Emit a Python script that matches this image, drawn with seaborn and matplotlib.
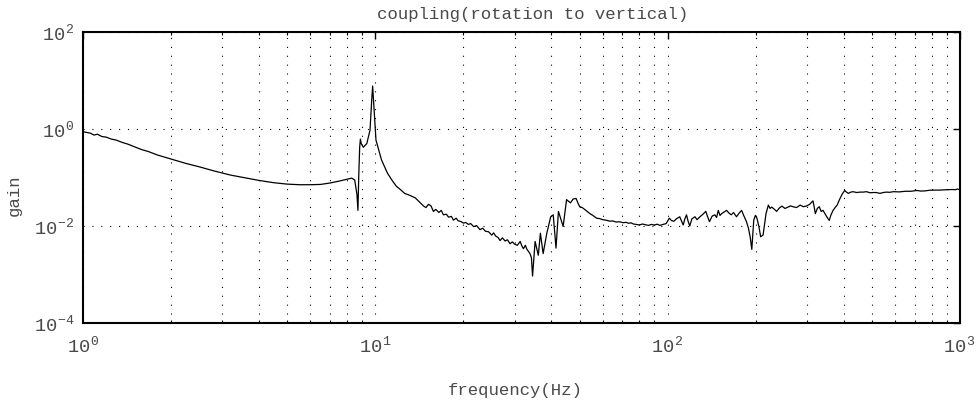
import numpy as np
import pandas as pd
import matplotlib
matplotlib.use("Agg")
import matplotlib.pyplot as plt
from matplotlib.ticker import FixedLocator, NullLocator, FuncFormatter, NullFormatter
import seaborn as sns

# ---------------- data ----------------
freq_hz = [
    # 1 - 8.5 Hz
    1.00, 1.03, 1.06, 1.09, 1.12, 1.16, 1.20, 1.25, 1.30, 1.36,
    1.42, 1.50, 1.58, 1.68, 1.80, 2.00, 2.25, 2.50, 2.80, 3.20,
    3.60, 4.00, 4.50, 5.00, 5.50, 6.00, 6.50, 7.00, 7.50, 8.00,
    # resonance
    8.30, 8.50, 8.65, 8.72, 8.78, 8.84, 8.89, 8.95, 9.10, 9.35,
    9.59, 9.72, 9.79, 9.90,
    # 10 - 20 Hz
    10.05, 10.5, 11.0, 11.4, 11.8, 12.2, 12.6, 13.1, 13.7, 14.1,
    14.6, 14.9, 15.2, 15.5, 15.8, 16.1, 16.5, 16.8, 17.1, 17.5,
    17.8, 18.2, 18.5, 18.9, 19.2, 19.6, 20.0,
    # 20 - 34 Hz
    20.4, 20.8, 21.2, 21.7, 22.2, 22.8, 23.3, 23.8, 24.4, 25.0,
    25.4, 25.8, 26.3, 26.7, 27.2, 27.8, 28.3, 28.9, 29.4, 30.0,
    30.6, 31.3, 31.7, 32.1, 32.6, 33.0, 33.4, 33.8, 34.2,
    # 34 - 48 Hz
    34.5, 35.2, 36.1, 36.7, 37.5, 38.6, 39.8, 40.6, 41.5, 42.3,
    43.9, 45.1, 46.5, 47.5, 48.6,
    # 49 - 100 Hz
    49.3, 50.0, 51.0, 52.0, 53.0, 54.2, 55.5, 57.1, 58.5, 60.0,
    61.5, 63.3, 65.0, 66.5, 68.5, 70.5, 72.0, 73.5, 75.0, 76.3,
    78.0, 80.0, 82.0, 84.0, 86.0, 88.0, 90.0, 92.0, 94.0, 96.0,
    98.8,
    # 100 - 400 Hz
    101.3, 103, 105, 107, 110, 111.5, 113, 114.5, 116, 117.5,
    119, 121, 124, 126, 129, 132, 135, 137, 139, 142,
    145, 147, 149, 151, 153, 156, 159, 162, 165, 168,
    172, 175, 179, 182, 186, 189, 191.5, 194, 197, 199.5,
    202, 205, 208, 212, 214.5, 217, 221, 224, 227, 231,
    236, 241, 246, 252, 258, 263, 268, 276, 284, 291,
    298, 306, 314, 317, 320, 325, 330, 335, 340, 349,
    357, 362, 368, 374, 380, 387, 395,
    # 400 - 1000 Hz
    403, 409, 415, 423, 431, 443, 455, 467, 479, 492,
    505, 518, 532, 546, 560, 575, 591, 620, 650, 680,
    711, 735, 760, 786, 813, 855, 900, 940, 965, 980,
    1000,
]
gain = [
    # 1 - 8.5 Hz
    0.88, 0.85, 0.82, 0.75, 0.78, 0.70, 0.68, 0.62, 0.59, 0.53,
    0.49, 0.43, 0.38, 0.34, 0.29, 0.24, 0.195, 0.166, 0.137, 0.112,
    0.098, 0.087, 0.078, 0.073, 0.071, 0.071, 0.072, 0.077, 0.084, 0.092,
    # resonance
    0.097, 0.089, 0.045, 0.021, 0.12, 0.42, 0.62, 0.50, 0.42, 0.50,
    0.95, 4.0, 7.7, 2.5,
    # 10 - 20 Hz
    0.59, 0.23, 0.123, 0.088, 0.066, 0.056, 0.047, 0.043, 0.038, 0.032,
    0.026, 0.024, 0.028, 0.026, 0.020, 0.022, 0.019, 0.021, 0.017, 0.0175,
    0.0152, 0.0158, 0.0132, 0.0145, 0.0128, 0.0124, 0.0115,
    # 20 - 34 Hz
    0.0118, 0.0108, 0.0112, 0.0097, 0.0102, 0.0084, 0.0090, 0.0078, 0.0076, 0.0065,
    0.0072, 0.0062, 0.0058, 0.0050, 0.0057, 0.0049, 0.0052, 0.0043, 0.0047, 0.0042,
    0.0040, 0.0048, 0.0039, 0.0034, 0.0040, 0.0033, 0.0030, 0.0027, 0.0022,
    # 34 - 48 Hz
    0.00093, 0.0048, 0.0025, 0.0071, 0.0027, 0.0071, 0.0155, 0.017, 0.0035, 0.020,
    0.0098, 0.035, 0.030, 0.036, 0.037,
    # 49 - 100 Hz
    0.030, 0.025, 0.024, 0.022, 0.020, 0.018, 0.0165, 0.0145, 0.0142, 0.0135,
    0.0132, 0.0126, 0.0127, 0.0121, 0.0122, 0.0117, 0.0119, 0.0114, 0.0116, 0.0110,
    0.0108, 0.0105, 0.0110, 0.0106, 0.0103, 0.0108, 0.0104, 0.0109, 0.0103, 0.0107,
    0.0112,
    # 100 - 400 Hz
    0.0145, 0.0130, 0.0125, 0.0140, 0.0155, 0.0128, 0.0105, 0.0140, 0.0170, 0.0125,
    0.0100, 0.0140, 0.0155, 0.0135, 0.0155, 0.0175, 0.0200, 0.0155, 0.0123, 0.0160,
    0.0170, 0.0150, 0.0210, 0.0165, 0.0180, 0.0195, 0.0210, 0.0185, 0.0170, 0.0190,
    0.0155, 0.0180, 0.0210, 0.0165, 0.0123, 0.0089, 0.0060, 0.0033, 0.0132, 0.0165,
    0.0145, 0.0100, 0.0060, 0.0065, 0.0110, 0.0180, 0.0270, 0.0230, 0.0245, 0.0225,
    0.0200, 0.0235, 0.0257, 0.0230, 0.0245, 0.0260, 0.0250, 0.0240, 0.0270, 0.0250,
    0.0257, 0.0280, 0.0330, 0.0250, 0.0180, 0.0230, 0.0250, 0.0200, 0.0210, 0.0160,
    0.0130, 0.0170, 0.0210, 0.0240, 0.0270, 0.0350, 0.0450,
    # 400 - 1000 Hz
    0.054, 0.050, 0.047, 0.050, 0.051, 0.049, 0.050, 0.050, 0.051, 0.0485,
    0.049, 0.049, 0.047, 0.049, 0.050, 0.0495, 0.051, 0.0505, 0.052, 0.052,
    0.054, 0.0525, 0.053, 0.0545, 0.055, 0.055, 0.056, 0.0565, 0.056, 0.058,
    0.055,
]
assert len(freq_hz) == len(gain)

x_major = [1, 10, 100, 1000]
y_major = [1e-4, 1e-2, 1e0, 1e2]
title = "coupling(rotation to vertical)"
xlabel = "frequency(Hz)"
ylabel = "gain"

df = pd.DataFrame({"frequency": freq_hz, "gain": gain})

# ---------------- style ----------------
sns.set_theme(style="white")
plt.rcParams["font.family"] = ["Liberation Mono", "DejaVu Sans Mono"]
plt.rcParams["mathtext.fontset"] = "custom"
plt.rcParams["mathtext.rm"] = "Liberation Mono"
plt.rcParams["mathtext.it"] = "Liberation Mono"
plt.rcParams["mathtext.bf"] = "Liberation Mono"
plt.rcParams["axes.unicode_minus"] = True

text_color = "#4a4a4a"

fig = plt.figure(figsize=(9.78, 4.03), dpi=100)
ax = fig.add_axes([83 / 978, 1 - 323 / 403, (960 - 83) / 978, (323 - 32) / 403])

sns.lineplot(data=df, x="frequency", y="gain", ax=ax, color="black",
             linewidth=0.9, estimator=None, sort=False)

ax.set_xscale("log")
ax.set_yscale("log")
ax.set_xlim(1, 1000)
ax.set_ylim(1e-4, 1e2)

ax.xaxis.set_major_locator(FixedLocator(x_major))
minors = [m * d for d in x_major[:-1] for m in range(2, 10)]
ax.xaxis.set_minor_locator(FixedLocator(minors))
ax.xaxis.set_minor_formatter(NullFormatter())
ax.yaxis.set_major_locator(FixedLocator(y_major))
ax.yaxis.set_minor_locator(NullLocator())


def fmt(v, pos):
    e = int(round(np.log10(v)))
    return r"$\mathregular{10}^{\,\mathregular{%d}}$" % e


ax.xaxis.set_major_formatter(FuncFormatter(fmt))
ax.yaxis.set_major_formatter(FuncFormatter(fmt))

ax.tick_params(axis="both", which="major", direction="in", length=5, width=1.0,
               top=True, right=True, labelsize=13.5, labelcolor=text_color,
               color="black")
ax.tick_params(axis="x", which="major", pad=9)
ax.tick_params(axis="y", which="major", pad=6)
ax.tick_params(axis="x", which="minor", direction="in", length=2.5, width=0.8,
               top=True, bottom=True, color="black")

ax.grid(True, which="major", axis="both", color="black",
        linestyle=(0, (1, 7)), linewidth=0.8)
ax.grid(True, which="minor", axis="x", color="black",
        linestyle=(0, (1, 7)), linewidth=0.8)

for s in ax.spines.values():
    s.set_color("black")
    s.set_linewidth(1.5)
    s.set_visible(True)

ax.set_xlabel(xlabel, fontsize=12.5, color=text_color)
ax.set_ylabel(ylabel, fontsize=12.5, color=text_color)
ax.xaxis.set_label_coords(0.4935, -0.205)
ax.yaxis.set_label_coords(-0.07, 0.44)
fig.text(533 / 978, 1 - 14 / 403, title, ha="center", va="center",
         fontsize=12.5, color=text_color)

fig.savefig("out.png", dpi=100, facecolor="white")
